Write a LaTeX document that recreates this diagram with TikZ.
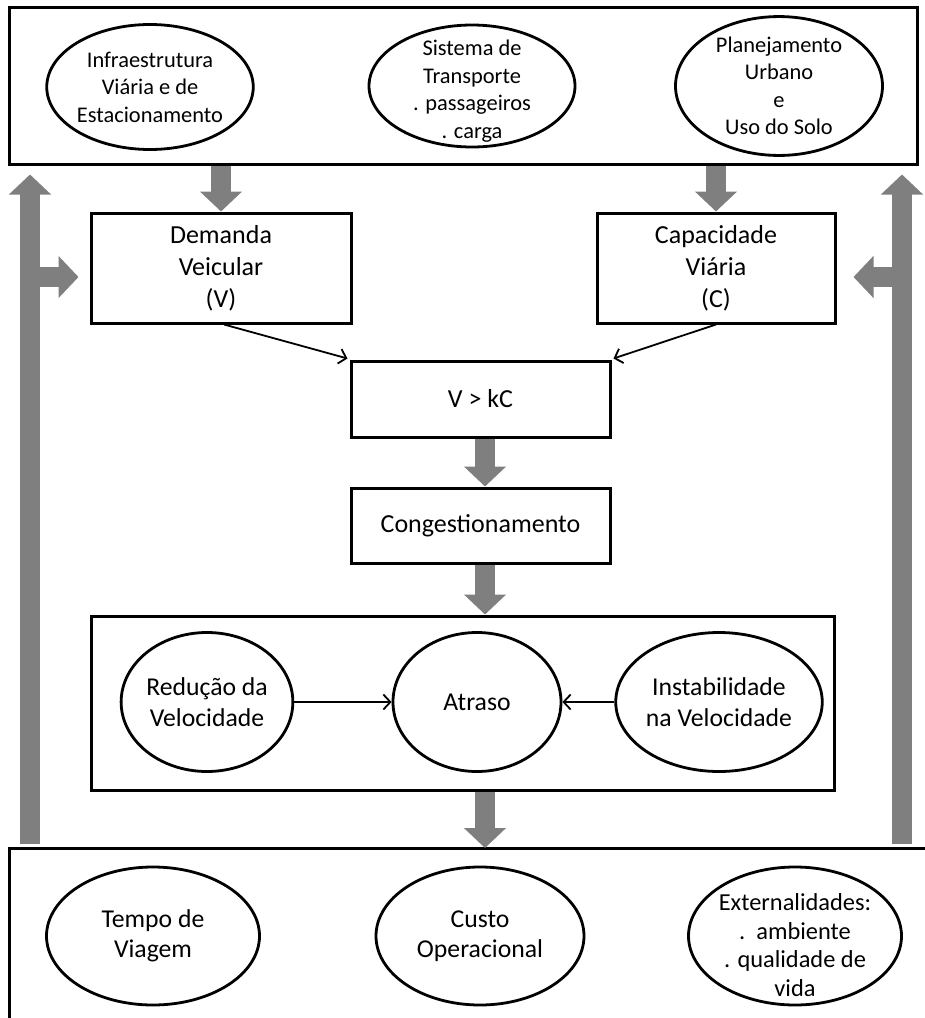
\documentclass[tikz,border=0pt]{standalone}
\usepackage{fontspec}
\setmainfont{Carlito}
\usetikzlibrary{arrows.meta,shapes.geometric}
\definecolor{arrowgray}{RGB}{127,127,127}

\begin{document}
\begin{tikzpicture}[x=1pt,y=-1pt,
  box/.style={draw, line width=3pt, rectangle, inner sep=0pt, align=center,
              font=\fontsize{26}{32}\selectfont},
  oval/.style={draw, line width=2.8pt, ellipse, inner sep=0pt, align=center},
  fbig/.style={font=\fontsize{25.7}{30.5}\selectfont},
  fmid/.style={font=\fontsize{24.4}{28.5}\selectfont},
  fsmall/.style={font=\fontsize{22.4}{27.5}\selectfont},
  inner text/.style={align=center, inner sep=0pt},
  garrow/.style={arrowgray, line width=20pt, -{Triangle[width=41pt,length=20pt]}},
  thinarrow/.style={line width=1.8pt, -{Straight Barb[length=7pt,width=15pt,line width=1.8pt]}}
]
\useasboundingbox (0,0) rectangle (925,1018);

% ---- upper frame: causes ----
\node[box, minimum width=908, minimum height=157] (top) at (463,85.5) {};
\node[oval, fsmall, minimum width=206, minimum height=125] (infra) at (150,87)
  {Infraestrutura\\Viária e de\\Estacionamento};
\node[oval, minimum width=206, minimum height=122,
      label={[inner text, fsmall, yshift=-5pt]center:Sistema de\\Transporte\\. passageiros\\. carga}]
      (sist) at (472,86) {};
\node[oval, fsmall, minimum width=207, minimum height=125] (plan) at (779,86)
  {Planejamento\\Urbano\\e\\Uso do Solo};

% ---- demand and capacity ----
\node[box, minimum width=260, minimum height=110] (dem) at (221,268)
  {Demanda\\Veicular\\(V)};
\node[box, minimum width=238, minimum height=110] (cap) at (716,268)
  {Capacidade\\Viária\\(C)};

\node[box, minimum width=259, minimum height=76] (vkc) at (480.5,399) {V > kC};
\node[box, minimum width=259, minimum height=75] (cong) at (480.5,525.5) {Congestionamento};

% ---- middle frame: effects ----
\node[box, minimum width=743, minimum height=174] (mid) at (462.5,703) {};
\node[oval, fbig, minimum width=168, minimum height=139] (red) at (207,702)
  {Redução da\\Velocidade};
\node[oval, fbig, minimum width=168, minimum height=139] (atr) at (477,702) {Atraso};
\node[oval, fbig, minimum width=172, minimum height=139] (ins) at (719,702)
  {Instabilidade\\na Velocidade};

% ---- lower frame: consequences (open to the right and below) ----
\draw[line width=3pt] (925,848) -- (9,848) -- (9,1018);
\coordinate (bot) at (485,848);
\node[oval, fbig, minimum width=213, minimum height=138] (tempo) at (153,936)
  {Tempo de\\Viagem};
\node[oval, fbig, minimum width=208, minimum height=138] (custo) at (480,936)
  {Custo\\Operacional};
\node[oval, minimum width=213, minimum height=138,
      label={[inner text, fmid, yshift=-9pt]center:Externalidades:\\.\ \ ambiente\\. qualidade de\\vida}]
      (ext) at (795,936) {};

% ---- block arrows ----
\draw[garrow] (top.south -| dem.north) -- (dem.north);
\draw[garrow] (top.south -| cap.north) -- (cap.north);
\coordinate (axis) at (485,0);
\draw[garrow] (axis |- vkc.south) -- (axis |- cong.north);
\draw[garrow] (axis |- cong.south) -- (axis |- mid.north);
\draw[garrow] (axis |- mid.south) -- (bot);

% feedback arrows on both sides
\coordinate (lfoot) at (30,844);
\coordinate (rfoot) at (902,844);
\coordinate (lbranch) at (30,277);
\coordinate (rbranch) at (902,277);
\draw[garrow, shorten >=9pt] (lfoot) -- (lfoot |- top.south);
\draw[garrow, shorten >=9pt] (rfoot) -- (rfoot |- top.south);
\draw[garrow, shorten >=11pt] (lbranch) -- (lbranch -| dem.west);
\draw[garrow, shorten >=17pt] (rbranch) -- (rbranch -| cap.east);

% ---- thin connectors ----
\draw[thinarrow] ([xshift=3pt]dem.south) -- ([xshift=-2pt,yshift=1pt]vkc.north west);
\draw[thinarrow] (cap.south) -- ([xshift=2pt,yshift=1pt]vkc.north east);
\draw[thinarrow] (red.east) -- (atr.west);
\draw[thinarrow] (ins.west) -- (atr.east);
\end{tikzpicture}
\end{document}
